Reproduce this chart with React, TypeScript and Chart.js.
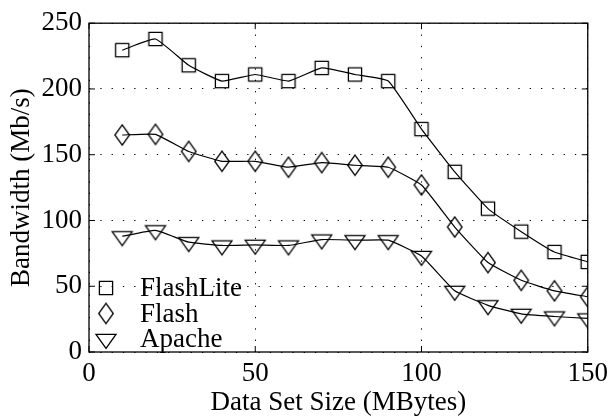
import React, { useEffect, useRef } from "react";
import { Chart, registerables } from "chart.js";

Chart.register(...registerables);

const sizes = [10, 20, 30, 40, 50, 60, 70, 80, 90, 100, 110, 120, 130, 140, 150];
const flashLite = [229.5, 238, 218, 206, 211, 206, 216, 211, 206, 169.5, 137, 109, 91.5, 76, 68.5];
const flash = [165, 165.5, 152.5, 145, 145, 140.5, 144, 142, 140.5, 127, 95, 68, 54.5, 46.5, 42];
const apache = [88, 92.5, 83.5, 81, 81.5, 81, 85.5, 85, 85, 73, 46.5, 35.5, 29, 27, 25.5];
const seriesNames = ["FlashLite", "Flash", "Apache"];
const xTicks = [0, 50, 100, 150];
const yTicks = [0, 50, 100, 150, 200, 250];

const FONT = "'Liberation Serif', 'Times New Roman', serif";
const FS = 27;

function makeMarker(shape: string): HTMLCanvasElement {
  const c = document.createElement("canvas");
  const S = 28;
  c.width = S;
  c.height = S;
  const ctx = c.getContext("2d")!;
  const cx = S / 2;
  const cy = S / 2;
  ctx.strokeStyle = "#000";
  ctx.lineWidth = 1.3;
  ctx.beginPath();
  if (shape === "square") {
    const h = 6.6;
    ctx.rect(cx - h, cy - h, 2 * h, 2 * h);
  } else if (shape === "diamond") {
    const w = 7.3;
    const h = 10.2;
    ctx.moveTo(cx, cy - h);
    ctx.lineTo(cx + w, cy);
    ctx.lineTo(cx, cy + h);
    ctx.lineTo(cx - w, cy);
    ctx.closePath();
  } else {
    const w = 10;
    const h = 14;
    ctx.moveTo(cx - w, cy - h / 3);
    ctx.lineTo(cx + w, cy - h / 3);
    ctx.lineTo(cx, cy + (2 * h) / 3);
    ctx.closePath();
  }
  ctx.stroke();
  return c;
}

export default function App() {
  const ref = useRef<HTMLCanvasElement | null>(null);

  useEffect(() => {
    document.body.style.margin = "0";
    const markers = [makeMarker("square"), makeMarker("diamond"), makeMarker("triangle")];
    const values = [flashLite, flash, apache];

    const framePlugin = {
      id: "frame",
      afterDatasetsDraw(chart: any) {
        const { ctx, chartArea: a, scales } = chart;
        ctx.save();
        ctx.strokeStyle = "#000";
        ctx.lineWidth = 1.3;
        ctx.setLineDash([]);
        ctx.strokeRect(a.left, a.top, a.right - a.left, a.bottom - a.top);
        const tl = 6;
        ctx.lineWidth = 1;
        ctx.beginPath();
        for (const v of xTicks) {
          const x = scales.x.getPixelForValue(v);
          ctx.moveTo(x, a.bottom);
          ctx.lineTo(x, a.bottom - tl);
          ctx.moveTo(x, a.top);
          ctx.lineTo(x, a.top + tl);
        }
        for (const v of yTicks) {
          const y = scales.y.getPixelForValue(v);
          ctx.moveTo(a.left, y);
          ctx.lineTo(a.left + tl, y);
          ctx.moveTo(a.right, y);
          ctx.lineTo(a.right - tl, y);
        }
        ctx.stroke();
        // legend
        ctx.font = `${FS}px ${FONT}`;
        ctx.fillStyle = "#000";
        ctx.textBaseline = "middle";
        ctx.textAlign = "left";
        const ys = [288, 313.5, 339];
        for (let i = 0; i < 3; i++) {
          const m = markers[i];
          ctx.drawImage(m, 106 - m.width / 2, ys[i] - m.height / 2);
          ctx.fillText(seriesNames[i], 140, ys[i] + 1);
        }
        ctx.restore();
      },
    };

    const chart = new Chart(ref.current!, {
      type: "line",
      data: {
        datasets: values.map((vals, i) => ({
          label: seriesNames[i],
          data: sizes.map((s, j) => ({ x: s, y: vals[j] })),
          borderColor: "#000",
          borderWidth: 1.2,
          tension: 0.12,
          fill: false,
          pointStyle: markers[i] as any,
          pointRadius: 8,
          pointHoverRadius: 8,
        })),
      },
      options: {
        animation: false,
        responsive: false,
        maintainAspectRatio: false,
        layout: { padding: { top: 19.5, right: 21, left: 0, bottom: 0 } },
        plugins: {
          legend: { display: false },
          tooltip: { enabled: false },
        },
        scales: {
          x: {
            type: "linear",
            min: 0,
            max: 150,
            afterFit: (s: any) => {
              s.height = 66;
            },
            afterBuildTicks: (s: any) => {
              s.ticks = xTicks.map((v) => ({ value: v }));
            },
            ticks: {
              color: "#000",
              font: { family: FONT, size: FS },
              padding: 6,
              maxRotation: 0,
            },
            grid: {
              color: "#000",
              lineWidth: 1,
              drawTicks: false,
            },
            border: { display: false, dash: [1.3, 10] },
            title: {
              display: true,
              text: "Data Set Size (MBytes)",
              color: "#000",
              font: { family: FONT, size: FS },
              padding: { top: 0, bottom: -1 },
            },
          },
          y: {
            type: "linear",
            min: 0,
            max: 250,
            afterFit: (s: any) => {
              s.width = 89;
            },
            afterBuildTicks: (s: any) => {
              s.ticks = yTicks.map((v) => ({ value: v }));
            },
            ticks: {
              color: "#000",
              font: { family: FONT, size: FS },
              padding: 7,
            },
            grid: {
              color: "#000",
              lineWidth: 1,
              drawTicks: false,
            },
            border: { display: false, dash: [1.3, 10] },
            title: {
              display: true,
              text: "Bandwidth (Mb/s)",
              color: "#000",
              font: { family: FONT, size: FS },
              padding: { top: 6, bottom: 0 },
            },
          },
        },
      },
      plugins: [framePlugin],
    });
    return () => chart.destroy();
  }, []);

  return (
    <div style={{ width: 614, height: 418, position: "relative" }}>
      <canvas ref={ref} width={614} height={418} style={{ width: 614, height: 418 }} />
    </div>
  );
}
